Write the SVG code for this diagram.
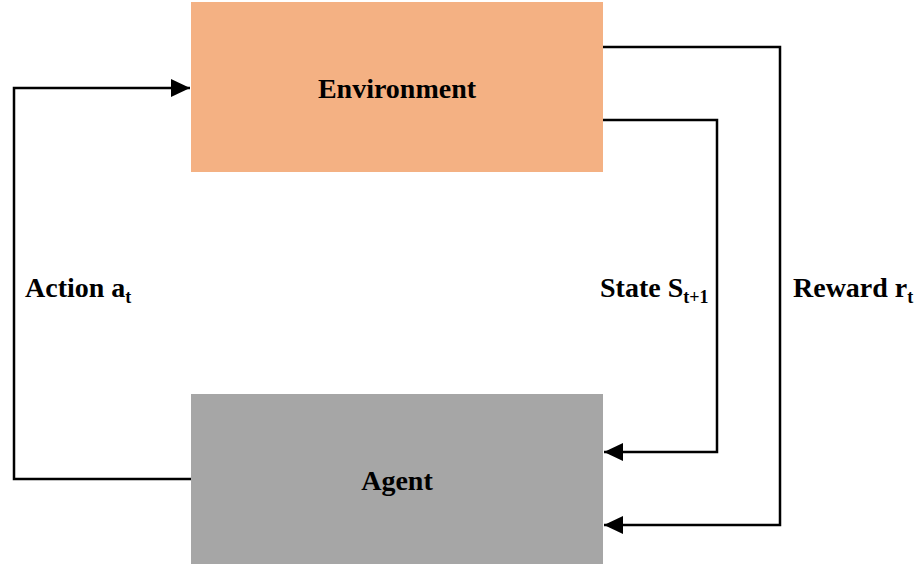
<svg xmlns="http://www.w3.org/2000/svg" width="918" height="566" viewBox="0 0 918 566">
<style>
.lbl{font-family:"Liberation Serif","Times New Roman",serif;font-weight:bold;font-size:28px;fill:#000}
.sub{font-size:18px}
.ln{fill:none;stroke:#000;stroke-width:2.5}
</style>
<defs>
<marker id="ah" markerUnits="userSpaceOnUse" markerWidth="20" markerHeight="20" viewBox="0 0 20 18" refX="19" refY="9" orient="auto">
<path d="M0,0 L19,9 L0,18 Z" fill="#000"/>
</marker>
</defs>
<rect width="918" height="566" fill="#fff"/>
<g id="environment">
<rect x="191" y="2" width="412" height="170" fill="#F4B183"/>
<text class="lbl" x="397" y="98" text-anchor="middle">Environment</text>
</g>
<g id="agent">
<rect x="191" y="394" width="412" height="170" fill="#A6A6A6"/>
<text class="lbl" x="397" y="490" text-anchor="middle">Agent</text>
</g>
<g id="connectors">
<polyline class="ln" points="191,479 14,479 14,88 190,88" marker-end="url(#ah)"/>
<polyline class="ln" stroke-width="2" points="603,120 717,120 717,452 604,452" marker-end="url(#ah)"/>
<polyline class="ln" stroke-width="2" points="603,47 780,47 780,525 604,525" marker-end="url(#ah)"/>
</g>
<g id="labels">
<text class="lbl" x="25" y="297">Action a<tspan class="sub" dy="6">t</tspan></text>
<text class="lbl" x="600" y="297">State S<tspan class="sub" dy="6">t+1</tspan></text>
<text class="lbl" x="793" y="297">Reward r<tspan class="sub" dy="6">t</tspan></text>
</g>
</svg>
